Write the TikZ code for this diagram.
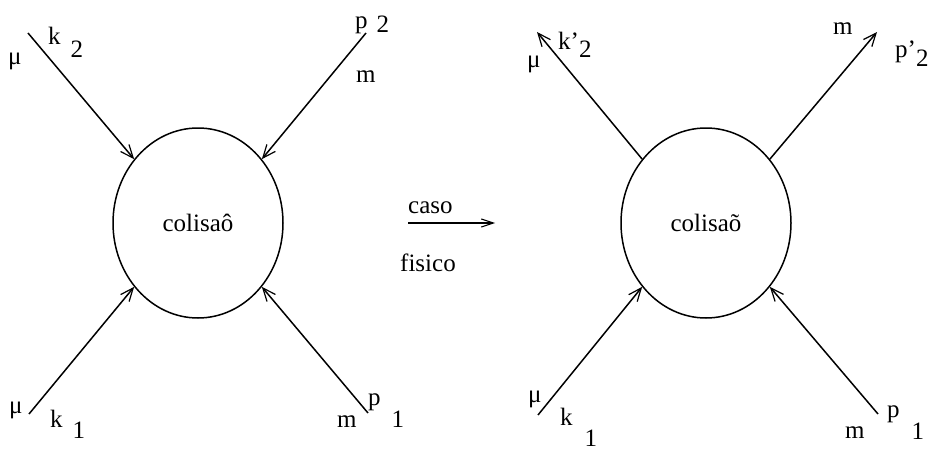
\documentclass[tikz,border=0pt]{standalone}
\usepackage{fontspec}
\setmainfont{Liberation Serif}
\usetikzlibrary{shapes.geometric,arrows.meta}
\tikzset{
	blob/.style = {
		draw,
		ellipse,
		minimum width=170pt,
		minimum height=190pt,
		line width=1.5pt,
		inner sep=0pt,
		font=\fontsize{25}{29}\selectfont
	},
	leg/.style = {
		-{Straight Barb[length=13pt,width=11pt,line width=1.2pt]},
		line width=1.5pt
	},
	trans/.style = {
		-{Straight Barb[length=12pt,width=8pt,line width=1.1pt]},
		line width=1.2pt
	},
	lbl/.style = {
		anchor=base west,
		inner sep=0pt,
		font=\fontsize{25}{29}\selectfont
	}
}

\begin{document}
\begin{tikzpicture}[x=1pt,y=-1pt]
	\useasboundingbox (0,0) rectangle (932,452);

	% --- Colisao (antes) ---
	\node [blob] (col1) at (198,223) {colisa\^o};

	% Extremos livres das pernas
	\coordinate (ink2) at (28,33);
	\coordinate (inp2) at (366,33);
	\coordinate (ink1) at (29,414);
	\coordinate (inp1) at (368,413);

	\draw [leg] (ink2) -- (col1.135);
	\draw [leg] (inp2) -- (col1.45);
	\draw [leg] (ink1) -- (col1.225);
	\draw [leg] (inp1) -- (col1.315);

	% Rotulos
	\node [lbl] (lmu2) at (8,65) {μ};
	\node [lbl] (lk2) at (48,45) {k\hspace{10pt}\raisebox{-13pt}{2}};
	\node [lbl] (lp2) at (355,29) {p\hspace{9pt}\raisebox{-4pt}{2}};
	\node [lbl] (lm2) at (356,82) {m};
	\node [lbl] (lmu1) at (9,413) {μ};
	\node [lbl] (lk1) at (50,427) {k\hspace{10pt}\raisebox{-11pt}{1}};
	\node [lbl] (lm1) at (337,427) {m};
	\node [lbl] (lp1) at (368,405) {p\hspace{11pt}\raisebox{-22pt}{1}};

	% --- Passagem ao caso fisico ---
	\coordinate (casoA) at (408,223);
	\coordinate (casoB) at (495,223);
	\draw [trans] (casoA) -- (casoB);
	\node [lbl] (lcaso) at (408,213) {caso};
	\node [lbl] (lfisico) at (400,271) {fisico};

	% --- Colisao (depois) ---
	\node [blob] (col2) at (706,223) {colisa\~o};

	\coordinate (outk2) at (537,32);
	\coordinate (outp2) at (877,32);
	\coordinate (ink1r) at (538,415);
	\coordinate (inp1r) at (878,414);

	\draw [leg] (col2.135) -- (outk2);
	\draw [leg] (col2.45) -- (outp2);
	\draw [leg] (ink1r) -- (col2.225);
	\draw [leg] (inp1r) -- (col2.315);

	% Rotulos
	\node [lbl] (rmu2) at (527,68) {μ};
	\node [lbl] (rk2) at (558,50) {k'\raisebox{-8pt}{2}};
	\node [lbl] (rm2) at (833,35) {m};
	\node [lbl] (rp2) at (895,58) {p'\raisebox{-9pt}{2}};
	\node [lbl] (rmu1) at (528,402) {μ};
	\node [lbl] (rk1) at (560,425) {k\hspace{12pt}\raisebox{-21pt}{1}};
	\node [lbl] (rm1) at (845,438) {m};
	\node [lbl] (rp1) at (887,417) {p\hspace{12pt}\raisebox{-22pt}{1}};

\end{tikzpicture}
\end{document}
